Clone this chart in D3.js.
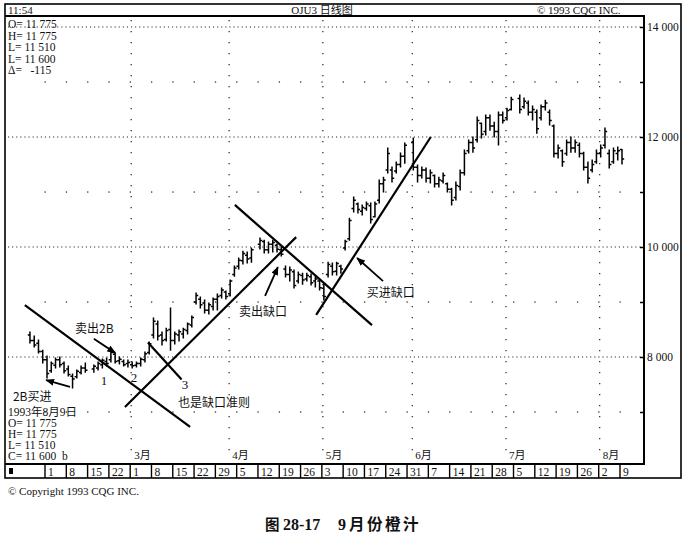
<!DOCTYPE html>
<html>
<head>
<meta charset="utf-8">
<script src="https://cdn.jsdelivr.net/npm/d3@7"></script>
<style>
  body { margin: 0; background: #fff; }
  text { font-family: "Liberation Serif", "Noto Sans CJK SC", serif; fill: #111; }
  .cjk { font-family: "Noto Sans CJK SC", sans-serif; }
</style>
</head>
<body>
<div id="chartContainer"></div>
<script>
// OJU3 daily bars, 26 Jan - 9 Aug 1993
var firstDay = "1993-01-26", lastDay = "1993-08-09";
var holidays = ["1993-02-15", "1993-04-09", "1993-05-31", "1993-07-05"];

// one row per week
var highs = [
  8455, 8380, 8310, 8125,
  8020, 7910, 7980, 8000, 7910,
  7835, 7690, 7765, 7835, 7890,
  7855, 7910, 7965, 7980,
  8125, 8075, 8000, 7945, 7945,
  7910, 7910, 7980, 8090, 8275,
  8710, 8655, 8455, 8525, 8890,
  8455, 8490, 8525, 8620, 8745,
  9165, 9090, 9035, 8980, 9075,
  9145, 9255, 9200, 9400, 9655,
  9800, 9925, 9910, 9980,
  10165, 10125, 10090, 10125, 10055,
  10000, 9655, 9635, 9580, 9545,
  9525, 9525, 9510, 9455, 9420,
  9345, 9725, 9710, 9725, 9670,
  10125, 10525, 10910, 10800, 10765,
  10820, 10800, 10820, 11220, 11270,
  11800, 11455, 11545, 11710, 11890,
  11980, 11490, 11455, 11435,
  11400, 11310, 11270, 11345, 11165,
  11070, 11180, 11400, 11765, 11945,
  12000, 12365, 12255, 12400, 12400,
  12270, 12455, 12455, 12525, 12725,
  12765, 12710, 12655, 12565,
  12490, 12580, 12670, 12490, 12220,
  11855, 11765, 11945, 12000, 11945,
  11890, 11725, 11545, 11580, 11765,
  11855, 12165, 11765, 11800, 11820,
  11775
];
var lows = [
  8255, 8180, 8075, 7890,
  7620, 7725, 7800, 7820, 7710,
  7655, 7435, 7620, 7690, 7725,
  7725, 7765, 7800, 7835,
  7910, 7890, 7875, 7835, 7820,
  7800, 7820, 7835, 7910, 8055,
  8345, 8310, 8220, 8290, 8125,
  8235, 8290, 8345, 8420, 8545,
  8965, 8890, 8800, 8780, 8855,
  8855, 9075, 9055, 9110, 9470,
  9600, 9690, 9710, 9725,
  9965, 9890, 9890, 9910, 9910,
  9835, 9455, 9380, 9255, 9345,
  9325, 9380, 9310, 9275, 9220,
  9035, 9455, 9490, 9490, 9525,
  9945, 10125, 10635, 10620, 10580,
  10670, 10435, 10545, 10800, 11000,
  11345, 11180, 11345, 11455, 11525,
  11400, 11180, 11255, 11180,
  11165, 11090, 11090, 11165, 11000,
  10765, 10855, 11035, 11310, 11710,
  11725, 11910, 11980, 12035, 12125,
  12000, 11855, 12255, 12310, 12490,
  12435, 12525, 12400, 12310,
  12070, 12310, 12490, 12220, 11635,
  11620, 11470, 11670, 11725, 11725,
  11635, 11400, 11165, 11365, 11525,
  11635, 11800, 11435, 11525, 11580,
  11510
];
var opens = [
  8400, 8300, 8250, 8100,
  7950, 7750, 7850, 7950, 7880,
  7780, 7650, 7640, 7720, 7800,
  7780, 7800, 7860, 7920,
  7950, 8050, 7930, 7920, 7880,
  7860, 7850, 7880, 7950, 8080,
  8400, 8600, 8400, 8320, 8500,
  8300, 8400, 8420, 8480, 8580,
  9000, 9050, 8980, 8850, 8920,
  9050, 9120, 9180, 9150, 9500,
  9650, 9750, 9850, 9800,
  10050, 10100, 9950, 10050, 10030,
  9950, 9600, 9500, 9550, 9380,
  9480, 9420, 9460, 9380, 9380,
  9250, 9500, 9650, 9560, 9650,
  9980, 10150, 10700, 10780, 10650,
  10700, 10750, 10550, 10850, 11150,
  11400, 11400, 11380, 11500, 11650,
  11900, 11450, 11300, 11400,
  11250, 11300, 11150, 11200, 11150,
  11050, 10900, 11100, 11350, 11750,
  11900, 11950, 12250, 12100, 12350,
  12200, 12100, 12400, 12350, 12500,
  12700, 12550, 12620, 12450,
  12450, 12350, 12550, 12450, 12200,
  11700, 11750, 11700, 11900, 11800,
  11850, 11700, 11450, 11400, 11550,
  11700, 11850, 11700, 11550, 11700,
  11775
];
var closes = [
  8300, 8220, 8100, 7950,
  7700, 7880, 7950, 7860, 7750,
  7680, 7600, 7740, 7800, 7760,
  7830, 7880, 7940, 7880,
  8080, 7920, 7960, 7860, 7900,
  7840, 7880, 7960, 8060, 8240,
  8650, 8380, 8300, 8480, 8300,
  8420, 8460, 8500, 8600, 8720,
  9120, 8950, 8850, 8950, 9050,
  9100, 9220, 9100, 9380, 9620,
  9760, 9880, 9780, 9950,
  10120, 9950, 10050, 10080, 9960,
  9870, 9500, 9580, 9300, 9500,
  9400, 9480, 9350, 9420, 9260,
  9100, 9680, 9550, 9700, 9600,
  10100, 10480, 10850, 10680, 10720,
  10780, 10500, 10780, 11150, 11220,
  11700, 11250, 11500, 11650, 11850,
  11450, 11300, 11400, 11250,
  11350, 11150, 11220, 11300, 11050,
  10850, 11120, 11350, 11700, 11900,
  11800, 12300, 12050, 12350, 12200,
  12100, 12400, 12300, 12480, 12680,
  12500, 12650, 12450, 12500,
  12150, 12550, 12620, 12300, 11700,
  11800, 11550, 11900, 11800, 11900,
  11700, 11450, 11250, 11500, 11700,
  11800, 12100, 11500, 11750, 11750,
  11600
];

var priceLabels = [8000, 10000, 12000, 14000];
var priceTicks = [7000, 8000, 9000, 10000, 11000, 12000, 13000, 14000];
var monthStarts = ["1993-03-01", "1993-04-01", "1993-05-03", "1993-06-01", "1993-07-01", "1993-08-02"];
var monthLabels = ["3月", "4月", "5月", "6月", "7月", "8月"];
var topReadout = ["O= 11 775", "H= 11 775", "L= 11 510", "L= 11 600", "Δ=   -115"];
var bottomReadout = ["1993年8月9日", "O= 11 775", "H= 11 775", "L= 11 510", "C= 11 600  b"];

// hand drawn lines, ends given as [weekdays since 1 Feb, price]
var trendLines = [
  [[-5.2, 8945], [33.6, 6730]],
  [[18.3, 7090], [58.5, 10180]],
  [[23.7, 8265], [31.6, 7590]],
  [[44.1, 10765], [76.3, 8580]],
  [[63.2, 8765], [90.1, 12000]]
];
var arrows = [
  [[11.0, 8330], [16.0, 8075]],
  [[5.4, 7455], [-0.2, 7580]],
  [[51.2, 9110], [54.2, 9635]],
  [[78.9, 9380], [72.8, 9800]]
];
var notes = [
  { t: "卖出2B", at: [6.6, 8436], a: "start", cjk: true },
  { t: "2B买进", at: [-8.0, 7200], a: "start", cjk: true },
  { t: "1", at: [13.4, 7491], a: "middle" },
  { t: "2", at: [20.4, 7545], a: "middle" },
  { t: "3", at: [32.4, 7425], a: "middle" },
  { t: "也是缺口准则", at: [30.75, 7100], a: "start", cjk: true },
  { t: "卖出缺口", at: [45.1, 8745], a: "start", cjk: true },
  { t: "买进缺口", at: [75.1, 9091], a: "start", cjk: true }
];

var W = 686, H = 536;
var box = { left: 5, top: 16, right: 644, bottom: 464, outerRight: 681, outerBottom: 478 };

var svg = d3.select("#chartContainer").append("svg")
  .attr("width", W).attr("height", H);

var parse = d3.utcParse("%Y-%m-%d"), fmt = d3.utcFormat("%Y-%m-%d");
var base = Date.UTC(1993, 1, 1);
// trading day index, weekends squeezed out
function dayIndex(d) {
  var n = Math.round((d - base) / 864e5);
  var w = Math.floor(n / 7), r = n - w * 7;
  return w * 5 + Math.min(r, 5);
}

var days = d3.utcDay.range(parse(firstDay), d3.utcDay.offset(parse(lastDay), 1))
  .filter(function (d) {
    var wd = d.getUTCDay();
    return wd > 0 && wd < 6 && holidays.indexOf(fmt(d)) < 0;
  });

var x = d3.scaleLinear().domain([0, 135]).range([47, 622]);
var y = d3.scaleLinear().domain([8000, 14000]).range([357, 27]);

var defs = svg.append("defs");
defs.append("marker").attr("id", "head")
  .attr("viewBox", "0 0 10 8").attr("refX", 9).attr("refY", 4)
  .attr("markerWidth", 9).attr("markerHeight", 7)
  .attr("markerUnits", "userSpaceOnUse").attr("orient", "auto")
  .append("path").attr("d", "M0,0L10,4L0,8z").attr("fill", "#000");

// frames
svg.append("rect").attr("x", box.left).attr("y", 4)
  .attr("width", box.outerRight - box.left).attr("height", box.outerBottom - 4)
  .attr("fill", "none").attr("stroke", "#000").attr("stroke-width", 1.6);
svg.append("path")
  .attr("d", "M" + box.left + "," + box.top + "H" + box.right + "V" + box.bottom + "H" + box.left)
  .attr("fill", "none").attr("stroke", "#000").attr("stroke-width", 2);

// grid
var grid = svg.append("g");
grid.selectAll(".major").data(priceLabels).join("line")
  .attr("x1", 8).attr("x2", box.right - 2)
  .attr("y1", function (d) { return y(d); }).attr("y2", function (d) { return y(d); })
  .attr("stroke", "#222").attr("stroke-width", 1.1).attr("stroke-dasharray", "1.1,3");

var mondays = d3.utcMonday.range(parse("1993-02-01"), parse("1993-08-10"));
var oddLevels = priceTicks.filter(function (p) { return priceLabels.indexOf(p) < 0; });
oddLevels.forEach(function (p) {
  grid.selectAll(null).data(mondays).join("rect")
    .attr("x", function (d) { return x(dayIndex(d)) - 2.5; })
    .attr("y", y(p) - 0.6).attr("width", 1.3).attr("height", 1.3).attr("fill", "#333");
});

var monthX = monthStarts.map(function (s) { return x(dayIndex(parse(s))) - 1; });
grid.selectAll(".month").data(monthX).join("line")
  .attr("x1", function (d) { return d; }).attr("x2", function (d) { return d; })
  .attr("y1", box.top + 4).attr("y2", box.bottom - 4)
  .attr("stroke", "#222").attr("stroke-width", 1.2).attr("stroke-dasharray", "1.2,9.8");
svg.selectAll(".mlab").data(monthLabels).join("text")
  .attr("x", function (d, i) { return monthX[i] + 3; }).attr("y", 459)
  .attr("font-size", 11).text(function (d) { return d; });

// right price axis
var fmtPrice = d3.formatLocale({ decimal: ".", thousands: " ", grouping: [3], currency: ["", ""] }).format(",");
var minorAxis = svg.append("g").attr("transform", "translate(" + box.right + ",0)")
  .call(d3.axisLeft(y).tickValues(priceTicks).tickSize(4).tickFormat(""));
minorAxis.select(".domain").remove();
minorAxis.selectAll("line").attr("stroke", "#000").attr("stroke-width", 1.5);
svg.selectAll(".plab").data(priceLabels).join("text")
  .attr("x", box.right + 3).attr("y", function (d) { return y(d) + 4; })
  .attr("font-size", 11.5).text(function (d) { return fmtPrice(d); });

// bars
var bars = days.map(function (d, i) {
  return { x: x(dayIndex(d)), o: opens[i], h: highs[i], l: lows[i], c: closes[i] };
});
svg.append("g").selectAll("path").data(bars).join("path")
  .attr("d", function (b) {
    return "M" + b.x + "," + (y(b.h) - 0.5) + "V" + (y(b.l) + 0.5) +
      "M" + (b.x - 2.2) + "," + y(b.o) + "H" + b.x +
      "M" + b.x + "," + y(b.c) + "H" + (b.x + 2.2);
  })
  .attr("fill", "none").attr("stroke", "#000").attr("stroke-width", 1.5);

// analyst lines and arrows
function pt(p) { return [x(p[0]), y(p[1])]; }
svg.append("g").selectAll("line").data(trendLines).join("line")
  .attr("x1", function (d) { return pt(d[0])[0]; }).attr("y1", function (d) { return pt(d[0])[1]; })
  .attr("x2", function (d) { return pt(d[1])[0]; }).attr("y2", function (d) { return pt(d[1])[1]; })
  .attr("stroke", "#000").attr("stroke-width", 2.2);
svg.append("g").selectAll("line").data(arrows).join("line")
  .attr("x1", function (d) { return pt(d[0])[0]; }).attr("y1", function (d) { return pt(d[0])[1]; })
  .attr("x2", function (d) { return pt(d[1])[0]; }).attr("y2", function (d) { return pt(d[1])[1]; })
  .attr("stroke", "#000").attr("stroke-width", 1.8).attr("marker-end", "url(#head)");
svg.append("g").selectAll("text").data(notes).join("text")
  .attr("class", function (d) { return d.cjk ? "cjk" : null; })
  .attr("x", function (d) { return pt(d.at)[0]; }).attr("y", function (d) { return pt(d.at)[1]; })
  .attr("text-anchor", function (d) { return d.a; })
  .attr("font-size", function (d) { return d.cjk ? 12 : 13; }).text(function (d) { return d.t; });

// header row
svg.append("text").attr("x", 8).attr("y", 14).attr("font-size", 11).text("11:54");
svg.append("text").attr("x", 322).attr("y", 14).attr("font-size", 11)
  .attr("text-anchor", "middle").text("OJU3 日线图");
svg.append("text").attr("x", 537).attr("y", 14).attr("font-size", 11).text("© 1993 CQG INC.");

// readouts
svg.selectAll(".tr").data(topReadout).join("text")
  .attr("x", 8).attr("y", function (d, i) { return 28 + i * 11.5; })
  .attr("font-size", 11.5).style("white-space", "pre").text(function (d) { return d; });
svg.selectAll(".br").data(bottomReadout).join("text")
  .attr("x", 8).attr("y", function (d, i) { return 416 + i * 11; })
  .attr("font-size", 11.5).style("white-space", "pre").text(function (d) { return d; });

// week row
var weekX = mondays.map(function (d) { return x(dayIndex(d)) - 2; });
var weekRow = svg.append("g");
weekRow.selectAll("line").data(weekX).join("line")
  .attr("x1", function (d) { return d; }).attr("x2", function (d) { return d; })
  .attr("y1", box.bottom).attr("y2", box.outerBottom)
  .attr("stroke", "#000").attr("stroke-width", 1.4);
weekRow.selectAll("text").data(mondays).join("text")
  .attr("x", function (d, i) { return weekX[i] + 3; }).attr("y", 475.5)
  .attr("font-size", 11.5).text(function (d) { return d.getUTCDate(); });
weekRow.append("rect").attr("x", 9).attr("y", 468).attr("width", 4).attr("height", 6).attr("fill", "#000");

// footer
svg.append("text").attr("x", 8).attr("y", 495).attr("font-size", 11).text("© Copyright 1993 CQG INC.");
var cap = svg.append("g").attr("font-weight", 700);
cap.append("text").attr("class", "cjk").attr("x", 265).attr("y", 530).attr("font-size", 14.5).text("图");
cap.append("text").attr("x", 283).attr("y", 530).attr("font-size", 16).text("28-17");
cap.append("text").attr("x", 338).attr("y", 530).attr("font-size", 16).text("9");
cap.append("text").attr("class", "cjk").attr("x", 349).attr("y", 530).attr("font-size", 15.5)
  .attr("letter-spacing", 2.5).text("月份橙汁");
</script>
</body>
</html>
